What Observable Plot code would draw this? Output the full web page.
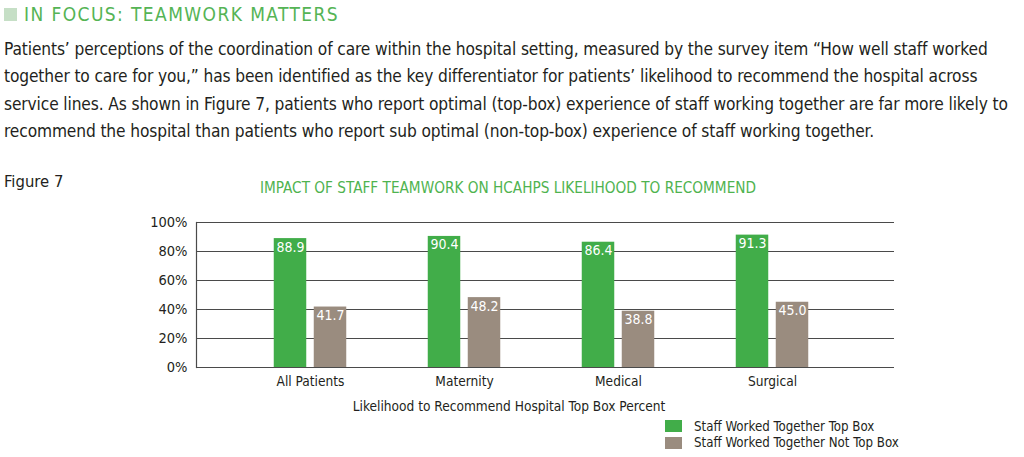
<!DOCTYPE html>
<html>
<head>
<meta charset="utf-8">
<script src="https://cdn.jsdelivr.net/npm/d3@7"></script>
<script src="https://cdn.jsdelivr.net/npm/@observablehq/plot@0.6"></script>
<style>
  html, body { margin: 0; padding: 0; background: #fff; }
  body { width: 1024px; height: 457px; position: relative; overflow: hidden;
         font-family: "DejaVu Sans Condensed", "Liberation Sans Narrow", sans-serif; color: #231f20; }
  .abs { position: absolute; white-space: nowrap; }
  #sq { left: 4px; top: 8px; width: 13px; height: 13px; background: #c6dfc6; }
  #hdr { left: 24px; top: 3px; font-size: 19px; letter-spacing: 1.4px; color: #55b455; }
  #para { left: 4px; top: 36px; font-size: 17.2px; letter-spacing: -0.12px; line-height: 27.4px; }
  #fig { left: 4px; top: 172px; font-size: 16.5px; }
  #ctitle { left: 258px; width: 500px; text-align: center; top: 179px; font-size: 15.2px; color: #4fb34f; }
  #chart { left: 0; top: 205px; }
  #xtitle { left: 309px; width: 400px; text-align: center; top: 398px; font-size: 13.6px; }
  #legend { left: 665px; top: 418px; font-size: 13.2px; }
  .lg { display: flex; align-items: center; height: 16.5px; }
  .sw { width: 17px; height: 12px; margin-right: 12px; }
</style>
</head>
<body>
<div id="sq" class="abs"></div>
<div id="hdr" class="abs">IN FOCUS: TEAMWORK MATTERS</div>
<div id="para" class="abs">Patients’ perceptions of the coordination of care within the hospital setting, measured by the survey item “How well staff worked<br>together to care for you,” has been identified as the key differentiator for patients’ likelihood to recommend the hospital across<br>service lines. As shown in Figure 7, patients who report optimal (top-box) experience of staff working together are far more likely to<br>recommend the hospital than patients who report sub optimal (non-top-box) experience of staff working together.</div>
<div id="fig" class="abs">Figure 7</div>
<div id="ctitle" class="abs">IMPACT OF STAFF TEAMWORK ON HCAHPS LIKELIHOOD TO RECOMMEND</div>
<div id="chart" class="abs"></div>
<div id="xtitle" class="abs">Likelihood to Recommend Hospital Top Box Percent</div>
<div id="legend" class="abs"></div>
<script>
const categories = ["All Patients", "Maternity", "Medical", "Surgical"];
const seriesNames = ["Staff Worked Together Top Box", "Staff Worked Together Not Top Box"];
const topBox = [88.9, 90.4, 86.4, 91.3];
const notTopBox = [41.7, 48.2, 38.8, 45.0];
const yTicks = [0, 20, 40, 60, 80, 100];
const colors = ["#41ad49", "#9a8c7f"];

const rows = [];
categories.forEach((c, i) => {
  rows.push({category: c, series: seriesNames[0], value: topBox[i]});
  rows.push({category: c, series: seriesNames[1], value: notTopBox[i]});
});
const topRows = rows.filter(d => d.series === seriesNames[0]);
const notRows = rows.filter(d => d.series === seriesNames[1]);

const font = '"DejaVu Sans Condensed", "Liberation Sans Narrow", sans-serif';
const inset = 60.75;

const plot = Plot.plot({
  width: 1024,
  height: 190,
  marginLeft: 196,
  marginRight: 130,
  marginTop: 17,
  marginBottom: 28,
  style: {fontFamily: font, fontSize: "15px", color: "#231f20", background: "transparent"},
  x: {domain: categories, range: [232.25, 850.25], padding: 0, label: null},
  y: {domain: [0, 100], label: null},
  color: {domain: seriesNames, range: colors},
  marks: [
    Plot.ruleY(yTicks, {stroke: "#4a4a4a", strokeWidth: 1.2}),
    Plot.frame({anchor: "left", stroke: "#4a4a4a", strokeWidth: 1.2}),
    Plot.barY(topRows, {x: "category", y: "value", fill: "series", dx: -20, insetLeft: inset, insetRight: inset}),
    Plot.barY(notRows, {x: "category", y: "value", fill: "series", dx: 20, insetLeft: inset, insetRight: inset}),
    Plot.text(topRows, {x: "category", y: "value", text: d => d.value.toFixed(1), dx: -20, dy: 3, lineAnchor: "top", fill: "white", fontSize: 14}),
    Plot.text(notRows, {x: "category", y: "value", text: d => d.value.toFixed(1), dx: 20, dy: 3, lineAnchor: "top", fill: "white", fontSize: 14}),
    Plot.axisY({ticks: yTicks, tickSize: 0, tickPadding: 9, tickFormat: d => d + "%", fontSize: 14.5, label: null}),
    Plot.axisX({tickSize: 0, tickPadding: 9, fontSize: 13.6, label: null})
  ]
});
document.getElementById("chart").appendChild(plot);

const lg = document.getElementById("legend");
seriesNames.forEach((s, i) => {
  const row = document.createElement("div");
  row.className = "lg";
  const sw = document.createElement("div");
  sw.className = "sw";
  sw.style.background = colors[i];
  const t = document.createElement("span");
  t.textContent = s;
  row.appendChild(sw);
  row.appendChild(t);
  lg.appendChild(row);
});
</script>
</body>
</html>
